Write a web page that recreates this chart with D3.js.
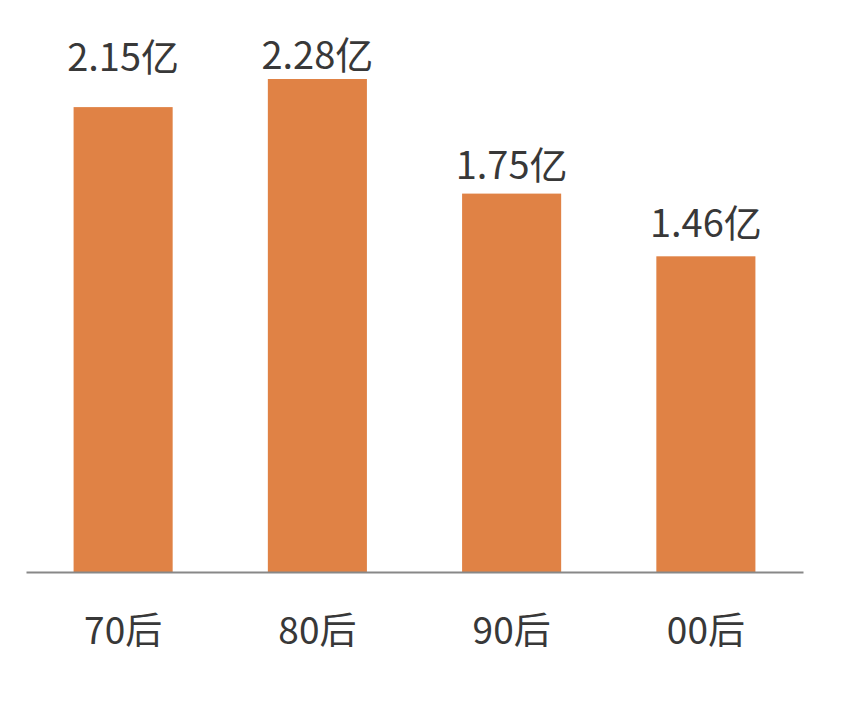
<!DOCTYPE html>
<html>
<head>
<meta charset="utf-8">
<script src="https://cdn.jsdelivr.net/npm/d3@7"></script>
<style>
  html, body { margin: 0; padding: 0; background: #fff; }
</style>
</head>
<body>
<svg id="chart"></svg>
<script>
const categories = ["70后", "80后", "90后", "00后"];
const values = [2.15, 2.28, 1.75, 1.46];
const valueLabels = ["2.15亿", "2.28亿", "1.75亿", "1.46亿"];

const width = 852, height = 702;
const font = "'Noto Sans CJK SC', 'Noto Sans', sans-serif";
// distance from bar top to label baseline, as placed in the original
const labelGap = [36, 10, 15, 19];

const svg = d3.select("#chart")
    .attr("width", width)
    .attr("height", height);

const x = d3.scaleBand()
    .domain(categories)
    .range([26, 803])
    .paddingInner(0.49)
    .paddingOuter(0.245);

const y = d3.scaleLinear()
    .domain([0, 2.28])
    .range([572, 79]);

// bars
svg.append("g")
  .selectAll("rect")
  .data(values)
  .join("rect")
    .attr("x", (d, i) => x(categories[i]))
    .attr("y", d => y(d))
    .attr("width", x.bandwidth())
    .attr("height", d => y(0) - y(d))
    .attr("fill", "#e08245");

// value labels
svg.append("g")
  .selectAll("text")
  .data(values)
  .join("text")
    .attr("x", (d, i) => x(categories[i]) + x.bandwidth() / 2)
    .attr("y", (d, i) => y(d) - labelGap[i])
    .attr("text-anchor", "middle")
    .style("font-family", font)
    .style("font-size", "38px")
    .attr("fill", "#383838")
    .text((d, i) => valueLabels[i]);

// axis baseline
const axis = svg.append("g")
    .attr("transform", `translate(0,${y(0)})`)
    .call(d3.axisBottom(x).tickSize(0).tickPadding(46));

axis.select(".domain")
    .attr("stroke", "#888")
    .attr("stroke-width", 2);

axis.selectAll("text")
    .style("font-family", font)
    .style("font-size", "37px")
    .attr("fill", "#383838");
</script>
</body>
</html>
